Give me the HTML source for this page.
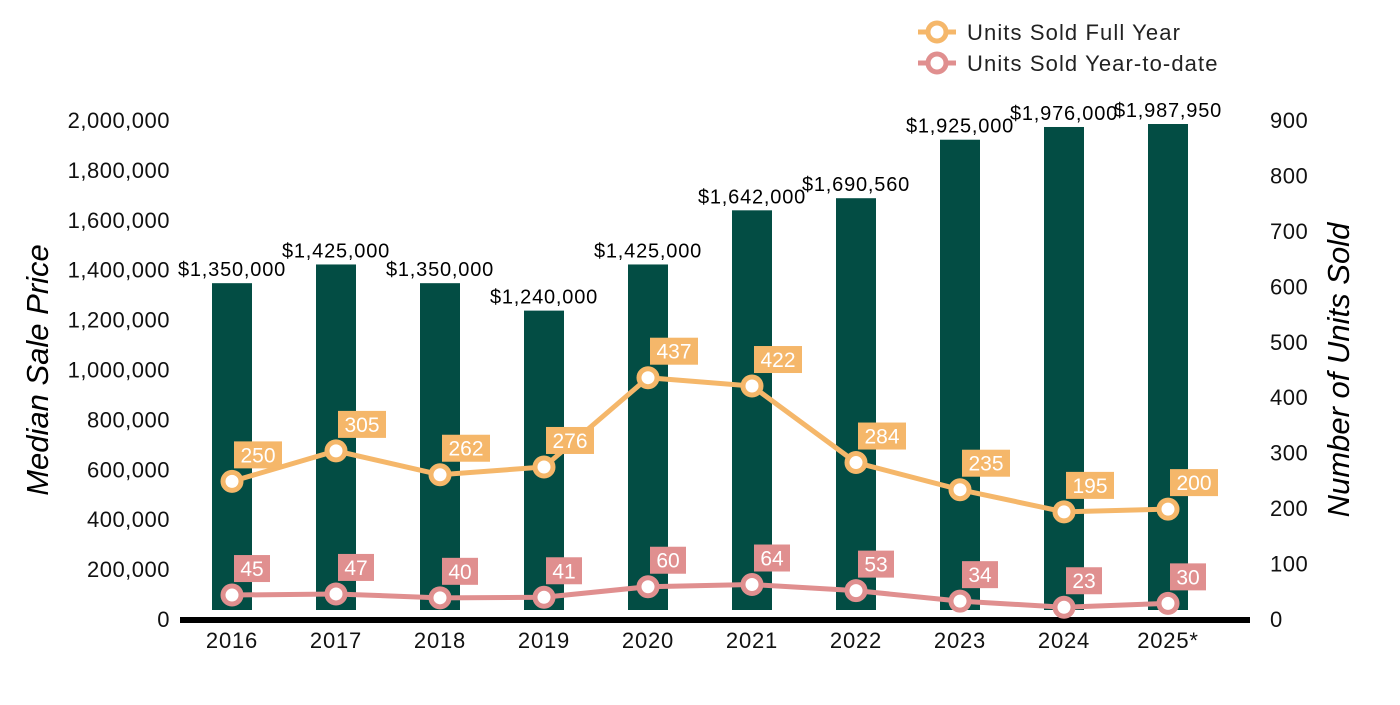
<!DOCTYPE html>
<html><head><meta charset="utf-8"><style>
body{margin:0;background:#fff;width:1400px;height:700px;overflow:hidden}
svg text{font-family:"Liberation Sans",Arial,sans-serif}
</style></head><body>
<svg id="chart" width="1400" height="700">
<g id="legend">
 <g>
  <line x1="918" y1="32" x2="956" y2="32" stroke="#f5b76a" stroke-width="5"/>
  <circle cx="937" cy="32" r="9" fill="#fff" stroke="#f5b76a" stroke-width="5"/>
  <text x="967" y="40" font-size="22" letter-spacing="1.1" fill="#222">Units Sold Full Year</text>
 </g>
 <g>
  <line x1="918" y1="63" x2="956" y2="63" stroke="#e08f8f" stroke-width="5"/>
  <circle cx="937" cy="63" r="9" fill="#fff" stroke="#e08f8f" stroke-width="5"/>
  <text x="967" y="71" font-size="22" letter-spacing="1.1" fill="#222">Units Sold Year-to-date</text>
 </g>
</g>
<text x="48" y="370" font-size="31" font-style="italic" transform="rotate(-90 48 370)" text-anchor="middle">Median Sale Price</text>
<text x="1349" y="370" font-size="31" font-style="italic" transform="rotate(-90 1349 370)" text-anchor="middle">Number of Units Sold</text>
</svg>
<script>
const years=["2016","2017","2018","2019","2020","2021","2022","2023","2024","2025*"];
const prices=[1350000,1425000,1350000,1240000,1425000,1642000,1690560,1925000,1976000,1987950];
const priceLabels=["$1,350,000","$1,425,000","$1,350,000","$1,240,000","$1,425,000","$1,642,000","$1,690,560","$1,925,000","$1,976,000","$1,987,950"];
const fullYear=[250,305,262,276,437,422,284,235,195,200];
const ytd=[45,47,40,41,60,64,53,34,23,30];
const leftTicks=[0,200000,400000,600000,800000,1000000,1200000,1400000,1600000,1800000,2000000];
const rightTicks=[0,100,200,300,400,500,600,700,800,900];

const svg=document.getElementById('chart');
const NS="http://www.w3.org/2000/svg";
const y0=620,yTop=121;
const yL=v=>y0-(v/2000000)*(y0-yTop);
const yR=v=>y0-(v/900)*(y0-yTop);
const xC=i=>232+i*104;
function mk(tag,attrs,parent){const e=document.createElementNS(NS,tag);for(const k in attrs)e.setAttribute(k,attrs[k]);(parent||svg).appendChild(e);return e;}

leftTicks.forEach(t=>{const e=mk('text',{x:170,y:yL(t)+7,'font-size':22,'letter-spacing':0.5,'text-anchor':'end',fill:'#111'});e.textContent=t.toLocaleString('en-US');

});
rightTicks.forEach(t=>{const e=mk('text',{x:1270,y:yR(t)+7,'font-size':22,'letter-spacing':0.5,fill:'#111'});e.textContent=t;

});

prices.forEach((p,i)=>{const top=yL(p);
const b=mk('rect',{x:xC(i)-20,y:top,width:40,height:610-top,fill:'#034d44'});


const t=mk('text',{x:xC(i),y:top-7,'font-size':20,'letter-spacing':0.8,'text-anchor':'middle',fill:'#000'});t.textContent=priceLabels[i];

});

const ax=mk('line',{x1:180,y1:620,x2:1250,y2:620,stroke:'#000','stroke-width':6});


years.forEach((y,i)=>{const t=mk('text',{x:xC(i),y:648,'font-size':22,'letter-spacing':0.8,'text-anchor':'middle',fill:'#111'});t.textContent=y;

});

function series(vals,color,name){
 const pl=mk('polyline',{points:vals.map((v,i)=>xC(i)+','+yR(v)).join(' '),fill:'none',stroke:color,'stroke-width':5});
 
 
 vals.forEach((v,i)=>{const cx=xC(i),cy=yR(v);
  const c=mk('circle',{cx:cx,cy:cy,r:9,fill:'#fff',stroke:color,'stroke-width':5});
  
  
  const w=String(v).length*12+12;
  const r=mk('rect',{x:cx+2,y:cy-40,width:w,height:27,fill:color});
  
  
  const t=mk('text',{x:cx+2+w/2,y:cy-19,'font-size':21,'text-anchor':'middle',fill:'#fff'});t.textContent=v;
  
  });
}
series(fullYear,'#f5b76a','full-year');
series(ytd,'#e08f8f','ytd');
</script>
</body></html>
